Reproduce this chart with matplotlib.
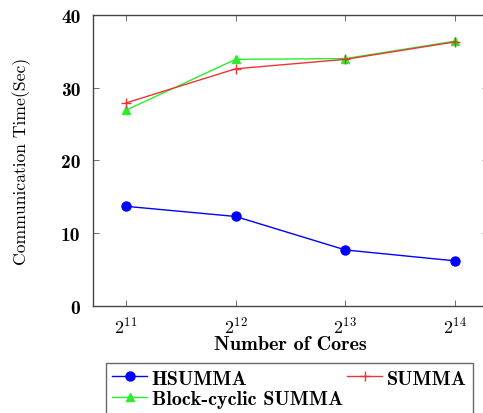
import matplotlib.pyplot as plt

# exponents of the core counts (2^11 .. 2^14)
core_exp = [11, 12, 13, 14]
core_labels = [r"$\mathbf{2^{11}}$", r"$\mathbf{2^{12}}$", r"$\mathbf{2^{13}}$", r"$\mathbf{2^{14}}$"]

hsumma = [13.7, 12.3, 7.7, 6.2]
summa = [27.9, 32.6, 33.9, 36.3]
block_cyclic = [26.9, 33.9, 34.0, 36.4]

y_ticks = [0, 10, 20, 30, 40]

plt.rcParams['font.family'] = ['cmb10', 'DejaVu Serif']
plt.rcParams['mathtext.fontset'] = 'cm'
plt.rcParams['axes.unicode_minus'] = False

fig = plt.figure(figsize=(4.83, 4.14), dpi=100)
ax = fig.add_axes([0.1925, 0.2585, 0.818, 0.703])

ax.plot(core_exp, hsumma, color='blue', linewidth=1.0, marker='o', markersize=6.5, label="HSUMMA")
ax.plot(core_exp, block_cyclic, color='#2bee2b', linewidth=1.0, marker='^', markersize=5.5,
        label="Block-cyclic SUMMA")
ax.plot(core_exp, summa, color='#ec3535', linewidth=1.0, marker='+', markersize=7, label="SUMMA")

ax.set_xlim(10.7, 14.3)
ax.set_ylim(0, 40)
ax.set_xticks(core_exp)
ax.set_xticklabels(core_labels, fontsize=13)
ax.set_yticks(y_ticks)
ax.set_yticklabels([str(v) for v in y_ticks], fontsize=14)
ax.tick_params(direction='in', top=True, right=True, length=4, width=0.6, color='#555555')
ax.tick_params(axis='y', pad=9)
ax.tick_params(axis='x', pad=6)
for spine in ax.spines.values():
    spine.set_color('#444444')
    spine.set_linewidth(1.0)

ax.set_xlabel("Number of Cores", fontsize=14.5)
ax.xaxis.set_label_coords(0.5, -0.1)
ax.set_ylabel("Communication Time(Sec)", fontsize=12.7, family=['cmr10', 'DejaVu Serif'])
ax.yaxis.set_label_coords(-0.157, 0.5)

leg = fig.legend(loc='upper left', bbox_to_anchor=(0.2195, 0.1208, 0.76, 0.0), mode='expand',
                 borderaxespad=0.0, ncol=2, fontsize=14.5, frameon=True, fancybox=False,
                 borderpad=0.32, handlelength=1.7, handletextpad=0.25, columnspacing=0.3,
                 labelspacing=0.12)
leg.get_frame().set_edgecolor('#444444')
leg.get_frame().set_linewidth(1.0)

fig.savefig("out.png", dpi=100)
